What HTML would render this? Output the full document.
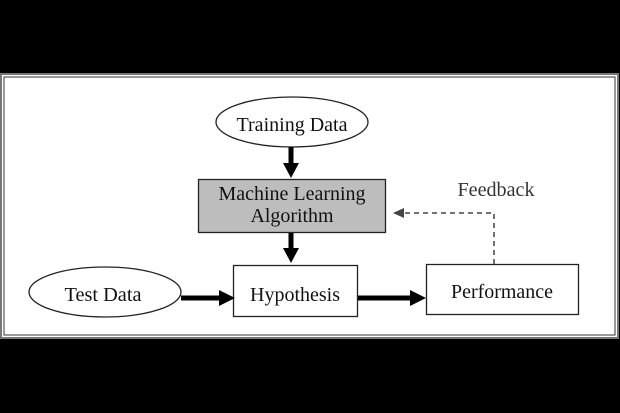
<!DOCTYPE html>
<html><head><style>
html,body{margin:0;padding:0;background:#000;width:620px;height:413px;overflow:hidden}
svg{display:block}
text{font-family:"Liberation Serif",serif;font-size:19.5px;fill:#111}
</style></head><body>
<svg width="620" height="413" viewBox="0 0 620 413">
<rect x="0" y="0" width="620" height="413" fill="#000"/>
<rect x="1" y="74" width="617" height="264" fill="#fff" stroke="#777" stroke-width="2"/>
<rect x="4" y="77" width="611" height="258" fill="#fff" stroke="#333" stroke-width="1"/>
<ellipse cx="292" cy="122" rx="76" ry="25" fill="#fff" stroke="#222" stroke-width="1.3"/>
<text x="292" y="131" text-anchor="middle" textLength="111" lengthAdjust="spacingAndGlyphs">Training Data</text>
<rect x="198.5" y="179.5" width="187" height="53" fill="#bdbdbd" stroke="#222" stroke-width="1.3"/>
<text x="292" y="200" text-anchor="middle" textLength="147" lengthAdjust="spacingAndGlyphs">Machine Learning</text>
<text x="292" y="222" text-anchor="middle" textLength="83" lengthAdjust="spacingAndGlyphs">Algorithm</text>
<rect x="233.5" y="265.5" width="124" height="51" fill="#fff" stroke="#222" stroke-width="1.3"/>
<text x="295" y="301" text-anchor="middle" textLength="90" lengthAdjust="spacingAndGlyphs">Hypothesis</text>
<ellipse cx="105" cy="292" rx="76" ry="25" fill="#fff" stroke="#222" stroke-width="1.3"/>
<text x="103" y="301" text-anchor="middle" textLength="77" lengthAdjust="spacingAndGlyphs">Test Data</text>
<rect x="426.5" y="264.5" width="152" height="50" fill="#fff" stroke="#222" stroke-width="1.3"/>
<text x="502" y="298" text-anchor="middle" textLength="102" lengthAdjust="spacingAndGlyphs">Performance</text>
<text x="496" y="196" text-anchor="middle" style="fill:#333" textLength="77" lengthAdjust="spacingAndGlyphs">Feedback</text>
<line x1="291" y1="147" x2="291" y2="166" stroke="#000" stroke-width="5"/>
<polygon points="283,163 299,163 291,178" fill="#000"/>
<line x1="291" y1="233" x2="291" y2="250" stroke="#000" stroke-width="5"/>
<polygon points="283,248 299,248 291,263" fill="#000"/>
<line x1="181" y1="298" x2="222" y2="298" stroke="#000" stroke-width="5"/>
<polygon points="219,290 219,306 235,298" fill="#000"/>
<line x1="358" y1="298" x2="412" y2="298" stroke="#000" stroke-width="5"/>
<polygon points="410,290 410,306 426,298" fill="#000"/>
<polyline points="494,264 494,213 402,213" fill="none" stroke="#444" stroke-width="1.5" stroke-dasharray="5,4"/>
<polygon points="393,213 404,208 404,218" fill="#444"/>
</svg>
</body></html>
